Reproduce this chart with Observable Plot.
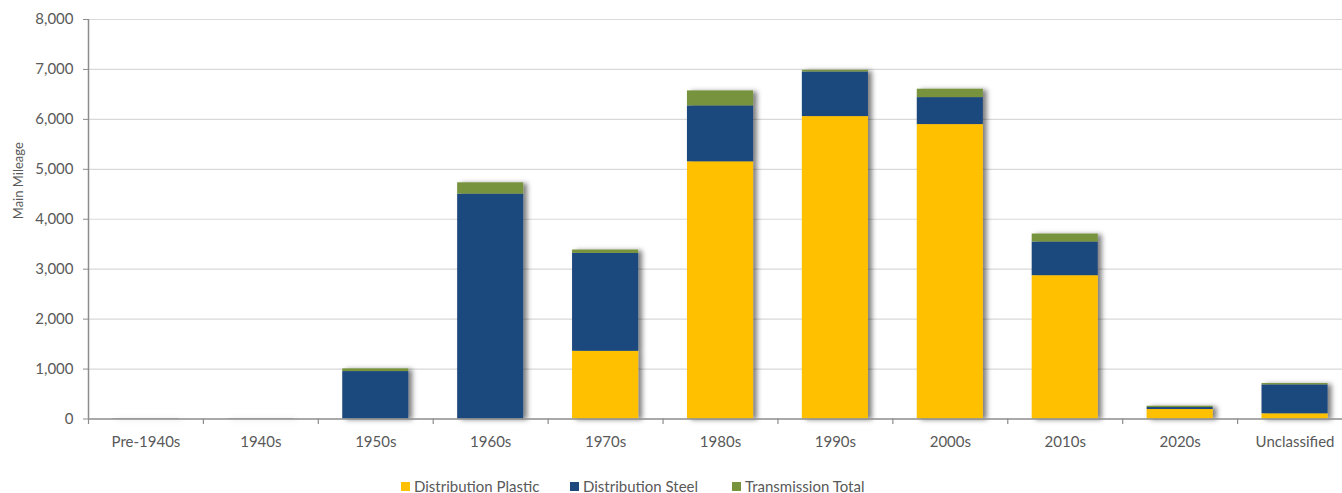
<!DOCTYPE html>
<html>
<head>
<meta charset="utf-8">
<script src="https://cdn.jsdelivr.net/npm/d3@7"></script>
<script src="https://cdn.jsdelivr.net/npm/@observablehq/plot@0.6"></script>
<style>
  html, body { margin: 0; padding: 0; background: #fff; overflow: hidden; }
  #wrap { position: relative; width: 1342px; height: 493px; font-family: Lato, "Open Sans", sans-serif; }
  #legend { position: absolute; left: 0; top: 476px; width: 1342px; height: 20px; color: #595959; font-size: 15px; }
  .item { position: absolute; top: 0; display: flex; align-items: center; height: 20px; }
  .sw { width: 9px; height: 9px; margin-right: 4px; }
</style>
</head>
<body>
<div id="wrap"><div id="chart"></div><div id="legend"></div></div>
<script>
const categories = ["Pre-1940s","1940s","1950s","1960s","1970s","1980s","1990s","2000s","2010s","2020s","Unclassified"];
const distributionPlastic = [0, 0, 0, 0, 1356, 5150, 6056, 5896, 2870, 190, 104];
const distributionSteel   = [6, 6, 950, 4504, 1960, 1120, 894, 540, 674, 40, 580];
const transmissionTotal   = [2, 2, 54, 226, 68, 300, 34, 168, 160, 26, 26];
const seriesNames = ["Distribution Plastic", "Distribution Steel", "Transmission Total"];
const seriesColors = ["#FFC000", "#1F497D", "#77933C"];
const yTicks = [0, 1000, 2000, 3000, 4000, 5000, 6000, 7000, 8000];

const seriesValues = [distributionPlastic, distributionSteel, transmissionTotal];
const data = [];
seriesNames.forEach((s, si) => categories.forEach((c, ci) => data.push({category: c, series: s, value: seriesValues[si][ci]})));

const W = 1342, H = 460, mL = 88, mR = -10, mT = 19, mB = 41.5;
const step = (W - mR - mL) / categories.length;
const pad = 0.425;

const plot = Plot.plot({
  width: W, height: H,
  marginLeft: mL, marginRight: mR, marginTop: mT, marginBottom: mB,
  style: {fontFamily: "Lato, 'Open Sans', sans-serif", fontSize: "15px", color: "#595959", background: "transparent", overflow: "visible"},
  x: {domain: categories, paddingInner: pad, paddingOuter: pad / 2, round: false, label: null},
  y: {domain: [0, 8000], label: null},
  color: {domain: seriesNames, range: seriesColors},
  marks: [
    Plot.gridY(yTicks.filter(d => d > 0), {stroke: "#d9d9d9", strokeOpacity: 1, strokeWidth: 1.2}),
    Plot.barY(data, {x: "category", y: "value", fill: "series", order: seriesNames}),
    Plot.ruleX(categories, {x: d => d, y1: 0, y2: -110, dx: -step / 2, stroke: "#8c8c8c", strokeWidth: 1.2}),
    Plot.ruleY([0], {stroke: "#8c8c8c", strokeWidth: 1.5}),
    Plot.ruleX([categories[0]], {x: d => d, y1: 0, y2: 8000, dx: -step / 2, stroke: "#8c8c8c", strokeWidth: 1.5}),
    Plot.axisY({ticks: yTicks, tickFormat: d3.format(","), tickSize: 5, tickPadding: 10, stroke: "#8c8c8c", fill: "#595959", fontSize: 15, label: null}),
    Plot.axisX({tickSize: 0, tickPadding: 17, fill: "#595959", fontSize: 15, label: null}),
    Plot.text(["Main Mileage"], {frameAnchor: "left", dx: -70, y: 4000, rotate: -90, fill: "#595959", fontSize: 13})
  ]
});
document.getElementById("chart").appendChild(plot);

// drop shadow on bars
const svg = d3.select(plot);
const defs = svg.insert("defs", ":first-child");
const f = defs.append("filter").attr("id", "shadow").attr("x", "-30%").attr("y", "-30%").attr("width", "170%").attr("height", "170%");
f.append("feDropShadow").attr("dx", 4).attr("dy", 1).attr("stdDeviation", 2.8).attr("flood-color", "#000").attr("flood-opacity", 0.5);
svg.selectAll("g[aria-label='bar']").attr("filter", "url(#shadow)");

// legend
const legendPos = [401, 570, 732];
const lg = document.getElementById("legend");
seriesNames.forEach((s, i) => {
  const it = document.createElement("div");
  it.className = "item";
  it.style.left = legendPos[i] + "px";
  it.innerHTML = `<span class="sw" style="background:${seriesColors[i]}"></span><span>${s}</span>`;
  lg.appendChild(it);
});
</script>
</body>
</html>
